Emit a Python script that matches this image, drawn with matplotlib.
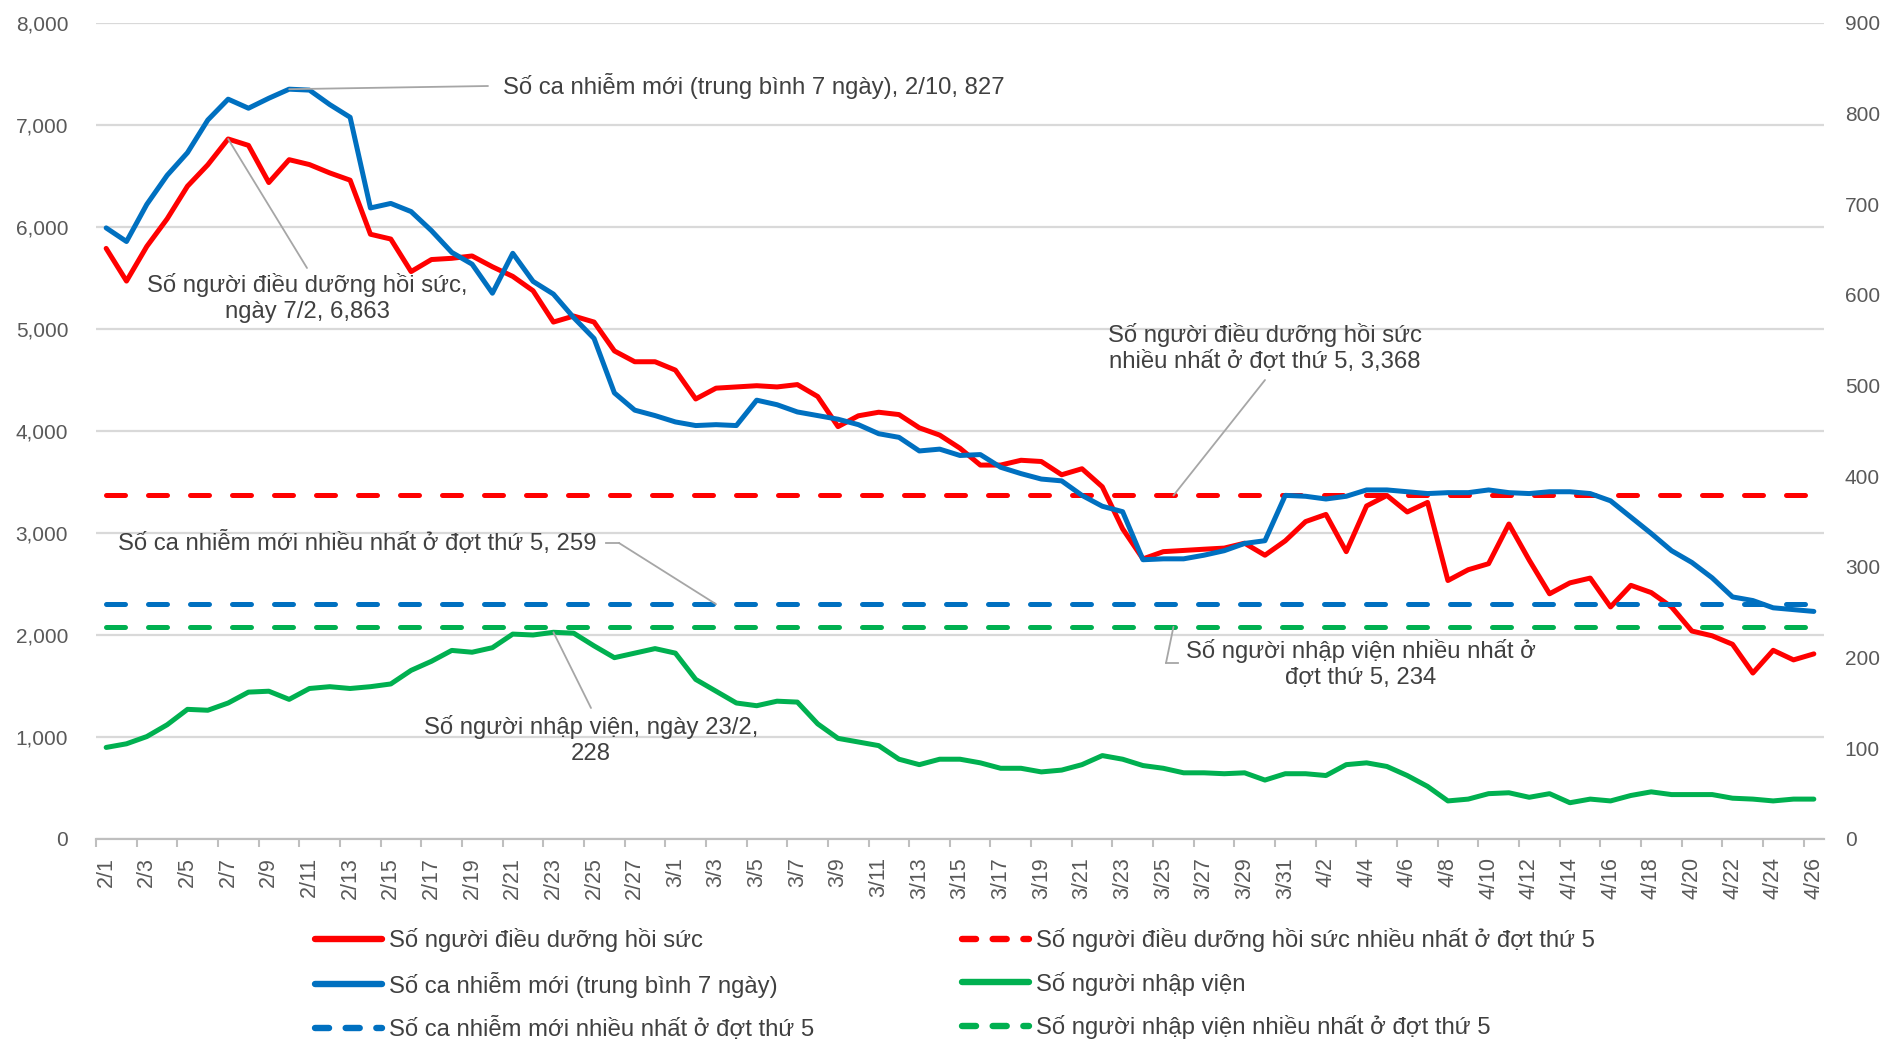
import numpy as np
import pandas as pd
import matplotlib
matplotlib.use("Agg")
import matplotlib.pyplot as plt
from matplotlib.lines import Line2D

plt.rcParams['font.family'] = ['Liberation Sans', 'DejaVu Sans']

# --- data (2/1 .. 4/26, daily) ---
dates = pd.date_range("2022-02-01", "2022-04-26", freq="D")
date_labels = [f"{d.month}/{d.day}" for d in dates]

icu = [5790, 5470, 5810, 6080, 6400, 6610, 6863, 6800, 6436, 6660,
       6612, 6530, 6459, 5929, 5882, 5563, 5681, 5693, 5716, 5610,
       5516, 5375, 5068, 5127, 5068, 4785, 4679, 4679, 4597, 4314,
       4420, 4432, 4444, 4432, 4455, 4338, 4043, 4149, 4184, 4161,
       4031, 3960, 3831, 3666, 3666, 3713, 3701, 3571, 3630, 3453,
       3041, 2746, 2817, 2829, 2841, 2852, 2900, 2782, 2923, 3112,
       3182, 2817, 3265, 3368, 3206, 3300, 2534, 2640, 2699, 3088,
       2734, 2404, 2511, 2558, 2275, 2487, 2416, 2275, 2039, 1992,
       1909, 1627, 1850, 1756, 1815]

cases_7d = [674, 659, 700, 732, 757, 793, 816, 806, 817, 827,
            826, 810, 796, 696, 701, 692, 671, 647, 634, 602,
            646, 615, 601, 575, 552, 492, 473, 467, 460, 456,
            457, 456, 484, 479, 471, 467, 463, 457, 447, 443,
            428, 430, 423, 424, 410, 403, 397, 395, 379, 367,
            361, 308, 309, 309, 313, 318, 326, 329, 379, 378,
            375, 378, 385, 385, 383, 381, 382, 382, 385, 382,
            381, 383, 383, 381, 373, 355, 337, 318, 305, 288,
            267, 263, 255, 253, 251]

admitted = [101, 105, 113, 126, 143, 142, 150, 162, 163, 154,
            166, 168, 166, 168, 171, 186, 196, 208, 206, 211,
            226, 225, 228, 227, 213, 200, 205, 210, 205, 176,
            163, 150, 147, 152, 151, 127, 111, 107, 103, 88,
            82, 88, 88, 84, 78, 78, 74, 76, 82, 92,
            88, 81, 78, 73, 73, 72, 73, 65, 72, 72,
            70, 82, 84, 80, 70, 58, 42, 44, 50, 51,
            46, 50, 40, 44, 42, 48, 52, 49, 49, 49,
            45, 44, 42, 44, 44]

icu_peak = 3368
cases_peak = 259
admitted_peak = 234

labels = ["Số người điều dưỡng hồi sức",
          "Số người điều dưỡng hồi sức nhiều nhất ở đợt thứ 5",
          "Số ca nhiễm mới (trung bình 7 ngày)",
          "Số người nhập viện",
          "Số ca nhiễm mới nhiều nhất ở đợt thứ 5",
          "Số người nhập viện nhiều nhất ở đợt thứ 5"]

RED, BLUE, GREEN = "#FF0000", "#0070C0", "#00B050"
TXT, TICK, GRID = "#404040", "#595959", "#D9D9D9"
LW = 3.6
DASH = (3.8, 4.6)

W, H = 1885, 1040
fig = plt.figure(figsize=(W / 100, H / 100), dpi=100)
ax = fig.add_axes([96 / W, 1 - 839 / H, (1824 - 96) / W, (839 - 23) / H])
ax2 = ax.twinx()

x = np.arange(len(dates))
n = len(x)

ax.plot(x, icu, color=RED, lw=LW, solid_joinstyle="round", solid_capstyle="round", zorder=3)
ax.plot(x, [icu_peak] * n, color=RED, lw=LW, dashes=DASH, dash_capstyle="round", zorder=2)
ax2.plot(x, cases_7d, color=BLUE, lw=LW, solid_joinstyle="round", solid_capstyle="round", zorder=3)
ax2.plot(x, admitted, color=GREEN, lw=LW, solid_joinstyle="round", solid_capstyle="round", zorder=3)
ax2.plot(x, [cases_peak] * n, color=BLUE, lw=LW, dashes=DASH, dash_capstyle="round", zorder=2)
ax2.plot(x, [admitted_peak] * n, color=GREEN, lw=LW, dashes=DASH, dash_capstyle="round", zorder=2)

ax.set_xlim(-0.5, n - 0.5)
ax.set_ylim(0, 8000)
ax2.set_ylim(0, 900)
ax.set_yticks(np.arange(0, 8001, 1000))
ax.set_yticklabels([f"{v:,}" for v in range(0, 8001, 1000)])
ax2.set_yticks(np.arange(0, 901, 100))
ax.yaxis.grid(True, color=GRID, lw=1.6)
ax.set_axisbelow(True)

for a in (ax, ax2):
    for s in ("top", "left", "right"):
        a.spines[s].set_visible(False)
    a.spines["bottom"].set_color("#BFBFBF")
    a.spines["bottom"].set_linewidth(1.5)
ax.tick_params(axis="y", length=0, pad=20, labelsize=15, labelcolor=TICK)
ax2.tick_params(axis="y", length=0, pad=15, labelsize=15, labelcolor=TICK)

ax.set_xticks(x[::2])
ax.set_xticklabels(date_labels[::2], rotation=90, ha="center", va="top")
ax.set_xticks(np.arange(-0.5, n - 1, 2), minor=True)
ax.tick_params(axis="x", which="major", length=0, pad=13, labelsize=15.5, labelcolor=TICK)
ax.tick_params(axis="x", which="minor", length=6, width=1.5, color="#BFBFBF")

# --- data labels with leader lines ---
lead = dict(arrowstyle="-", color="#A6A6A6", lw=1.3, shrinkA=0, shrinkB=0)
FS = 17.2


def fpx(px, py):
    return (px, H - py)


ax2.annotate("Số ca nhiễm mới (trung bình 7 ngày), 2/10, 827", xy=(9, 827),
             xytext=fpx(503, 86), textcoords="figure pixels", ha="left", va="center",
             fontsize=FS, color=TXT)
ax2.annotate("", xy=(9, 827), xytext=fpx(488, 86), textcoords="figure pixels", arrowprops=lead)

ax.annotate("Số người điều dưỡng hồi sức,\nngày 7/2, 6,863", xy=(6, 6863),
            xytext=fpx(307, 298), textcoords="figure pixels", ha="center", va="center",
            fontsize=FS, color=TXT, linespacing=1.2)
ax.annotate("", xy=(6, 6863), xytext=fpx(307, 268), textcoords="figure pixels", arrowprops=lead)

ax.annotate("Số người điều dưỡng hồi sức\nnhiều nhất ở đợt thứ 5, 3,368", xy=(51.5, icu_peak),
            xytext=fpx(1265, 348), textcoords="figure pixels", ha="center", va="center",
            fontsize=FS, color=TXT, linespacing=1.2)
ax.annotate("", xy=(52.5, icu_peak), xytext=fpx(1265, 380), textcoords="figure pixels", arrowprops=lead)

ax2.annotate("Số ca nhiễm mới nhiều nhất ở đợt thứ 5, 259", xy=(30, cases_peak),
             xytext=fpx(596, 543), textcoords="figure pixels", ha="right", va="center",
             fontsize=FS, color=TXT)
ax2.annotate("", xy=(30, cases_peak), xytext=fpx(619, 543), textcoords="figure pixels", arrowprops=lead)
fig.add_artist(Line2D([606 / W, 619 / W], [1 - 543 / H] * 2, color="#A6A6A6", lw=1.3))

ax2.annotate("Số người nhập viện nhiều nhất ở\nđợt thứ 5, 234", xy=(52.5, admitted_peak),
             xytext=fpx(1361, 664), textcoords="figure pixels", ha="center", va="center",
             fontsize=FS, color=TXT, linespacing=1.2)
ax2.annotate("", xy=(52.5, admitted_peak), xytext=fpx(1166, 663), textcoords="figure pixels", arrowprops=lead)
fig.add_artist(Line2D([1166 / W, 1178 / W], [1 - 663 / H] * 2, color="#A6A6A6", lw=1.3))

ax2.annotate("Số người nhập viện, ngày 23/2,\n228", xy=(22, 228),
             xytext=fpx(591, 740), textcoords="figure pixels", ha="center", va="center",
             fontsize=FS, color=TXT, linespacing=1.2)
ax2.annotate("", xy=(22, 228), xytext=fpx(591, 708), textcoords="figure pixels", arrowprops=lead)

# --- legend: two columns placed separately ---
def handle(color, dashed):
    if dashed:
        return Line2D([], [], color=color, lw=LW + 1, dashes=(2.2, 2.6), dash_capstyle="round")
    return Line2D([], [], color=color, lw=LW + 1, solid_capstyle="round")


col1 = [(handle(RED, False), labels[0]), (handle(BLUE, False), labels[2]), (handle(BLUE, True), labels[4])]
col2 = [(handle(RED, True), labels[1]), (handle(GREEN, False), labels[3]), (handle(GREEN, True), labels[5])]
leg_kw = dict(loc="upper left", frameon=False, fontsize=FS, handlelength=2.8, handletextpad=0.3,
              labelspacing=0.82, borderpad=0, borderaxespad=0, labelcolor=TXT,
              bbox_transform=fig.transFigure)
l1 = fig.legend([h for h, _ in col1], [t for _, t in col1],
                bbox_to_anchor=(315 / W, 1 - 928 / H), **leg_kw)
l2 = fig.legend([h for h, _ in col2], [t for _, t in col2],
                bbox_to_anchor=(962 / W, 1 - 928 / H), **leg_kw)

fig.savefig("out.png", dpi=100)
